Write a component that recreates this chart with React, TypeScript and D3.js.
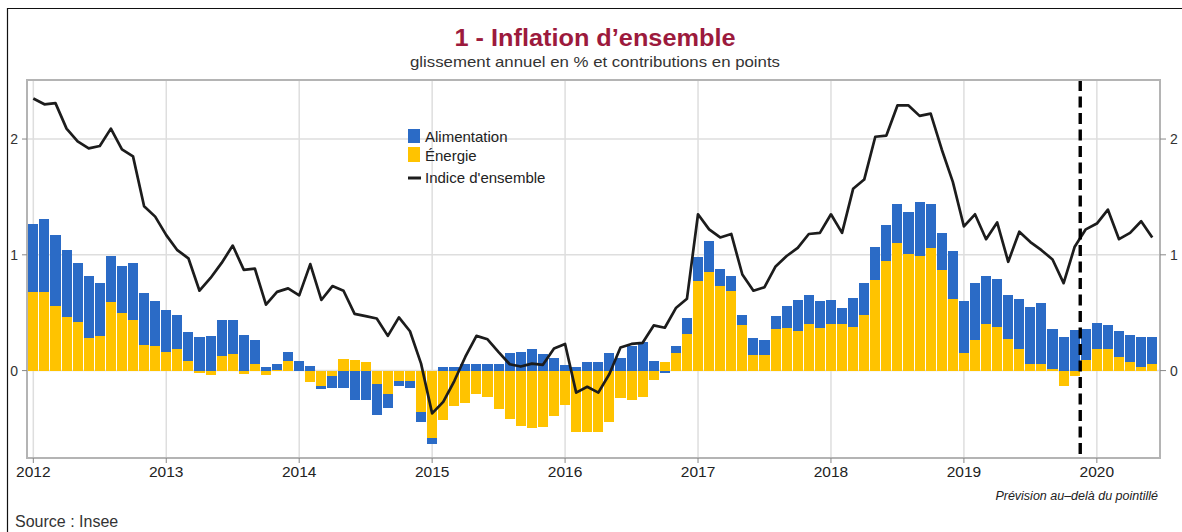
import React from "react";
import * as d3 from "d3";

// Monthly data, January 2012 to June 2020 (month index 0 = Jan 2012)
const startYear = 2012;
const years = [2012, 2013, 2014, 2015, 2016, 2017, 2018, 2019, 2020];

// Headline inflation (glissement annuel, %)
const headline = [
  2.35, 2.30, 2.31, 2.09, 1.98, 1.92, 1.94, 2.09, 1.91, 1.85, 1.42, 1.33,
  1.17, 1.04, 0.97, 0.69, 0.80, 0.93, 1.08, 0.87, 0.88, 0.57, 0.68, 0.71,
  0.65, 0.92, 0.61, 0.73, 0.69, 0.49, 0.47, 0.45, 0.30, 0.46, 0.34, 0.06,
  -0.37, -0.27, -0.09, 0.12, 0.30, 0.27, 0.16, 0.055, 0.035, 0.06, 0.05, 0.19,
  0.23, -0.19, -0.14, -0.19, -0.03, 0.20, 0.23, 0.24, 0.39, 0.37, 0.54, 0.62,
  1.35, 1.22, 1.15, 1.18, 0.83, 0.69, 0.72, 0.90, 0.99, 1.06, 1.18, 1.19,
  1.35, 1.19, 1.57, 1.65, 2.02, 2.03, 2.29, 2.29, 2.20, 2.22, 1.91, 1.63,
  1.245, 1.35, 1.135, 1.28, 0.94, 1.20, 1.11, 1.04, 0.96, 0.755, 1.07, 1.22,
  1.27, 1.39, 1.135, 1.19, 1.29, 1.15,
];

// Contribution of energy (points)
const energy = [
  0.68, 0.68, 0.56, 0.46, 0.42, 0.28, 0.30, 0.59, 0.50, 0.44, 0.22, 0.21,
  0.16, 0.19, 0.08, -0.02, -0.04, 0.13, 0.14, -0.03, 0.055, -0.04, 0.005, 0.08,
  0.0, -0.10, -0.13, -0.05, 0.10, 0.09, 0.07, -0.12, -0.20, -0.09, -0.09, -0.36,
  -0.58, -0.43, -0.31, -0.28, -0.20, -0.23, -0.33, -0.42, -0.48, -0.50, -0.49, -0.39,
  -0.30, -0.53, -0.53, -0.53, -0.44, -0.24, -0.25, -0.23, -0.08, 0.07, 0.155, 0.32,
  0.77, 0.85, 0.73, 0.69, 0.39, 0.135, 0.135, 0.36, 0.37, 0.345, 0.40, 0.37,
  0.40, 0.40, 0.38, 0.48, 0.78, 0.95, 1.10, 1.005, 0.99, 1.06, 0.87, 0.617,
  0.15, 0.26, 0.40, 0.38, 0.27, 0.19, 0.06, 0.06, 0.01, -0.13, -0.05, 0.09,
  0.19, 0.19, 0.115, 0.07, 0.035, 0.06,
];

// Contribution of food (points)
const food = [
  0.59, 0.63, 0.61, 0.58, 0.51, 0.54, 0.46, 0.40, 0.40, 0.49, 0.45, 0.39,
  0.36, 0.29, 0.25, 0.29, 0.30, 0.31, 0.30, 0.31, 0.205, 0.035, 0.05, 0.08,
  0.08, 0.037, -0.03, -0.10, -0.15, -0.25, -0.25, -0.26, -0.12, -0.04, -0.06, -0.08,
  -0.05, 0.03, 0.03, 0.06, 0.06, 0.06, 0.06, 0.15, 0.16, 0.185, 0.14, 0.11,
  0.05, 0.03, 0.07, 0.07, 0.155, 0.11, 0.21, 0.245, 0.08, -0.02, 0.06, 0.135,
  0.21, 0.27, 0.145, 0.13, 0.09, 0.145, 0.13, 0.11, 0.19, 0.265, 0.25, 0.235,
  0.21, 0.14, 0.25, 0.28, 0.29, 0.31, 0.34, 0.365, 0.47, 0.38, 0.32, 0.42,
  0.45, 0.50, 0.42, 0.41, 0.38, 0.43, 0.49, 0.52, 0.35, 0.29, 0.35, 0.27,
  0.225, 0.205, 0.23, 0.24, 0.255, 0.23,
];

const yTicks = [0, 1, 2];
const forecastBoundary = 94.5; // between Nov 2019 and Dec 2019
const seriesKeys = ["energy", "food"];
const legendItems = ["Alimentation", "Énergie", "Indice d'ensemble"];

const BLUE = "#2b6bc6";
const YELLOW = "#ffc300";
const LINE = "#1c1c1c";
const GRID = "#dedede";
const FRAME = "#b4b4b4";

export default function App() {
  const W = 1182;
  const H = 532;
  const left = 27;
  const right = 1160;
  const top = 80;
  const bottom = 458;

  const x = d3.scaleLinear().domain([-0.57, 101.7]).range([left, right]);
  const y = d3.scaleLinear().domain([-0.755, 2.51]).range([bottom, top]);
  const step = x(1) - x(0);

  const rows = headline.map((h, i) => ({ i, energy: energy[i], food: food[i] }));
  const stacked = d3
    .stack<any>()
    .keys(seriesKeys)
    .offset(d3.stackOffsetDiverging)(rows);

  const line = d3
    .line<number>()
    .x((_, i) => x(i))
    .y((v) => y(v));

  const colors: Record<string, string> = { energy: YELLOW, food: BLUE };
  const sans = "'Liberation Sans', Arial, sans-serif";
  const narrow = "'Liberation Sans Narrow', 'Liberation Sans', Arial, sans-serif";

  return (
    <div style={{ position: "absolute", left: 0, top: 0 }}>
      <svg width={W} height={H} style={{ display: "block", background: "#fff" }}>
        {/* outer frame */}
        <line x1={7} x2={W} y1={8.5} y2={8.5} stroke="#111" strokeWidth={1.2} />
        <line x1={7.5} x2={7.5} y1={8} y2={H} stroke="#111" strokeWidth={1.2} />

        {/* titles */}
        <text
          x={595}
          y={46}
          textAnchor="middle"
          fontFamily={narrow}
          fontWeight="bold"
          fontSize={23}
          fill="#9c1a3d"
          textLength={281}
          lengthAdjust="spacingAndGlyphs"
        >
          1 - Inflation d’ensemble
        </text>
        <text
          x={595}
          y={67}
          textAnchor="middle"
          fontFamily={narrow}
          fontSize={14.5}
          fill="#333"
          textLength={370}
          lengthAdjust="spacingAndGlyphs"
        >
          glissement annuel en % et contributions en points
        </text>

        {/* grid */}
        {yTicks.map((t) => (
          <line key={"gy" + t} x1={left} x2={right} y1={y(t)} y2={y(t)} stroke={GRID} strokeWidth={1.5} />
        ))}
        {years.map((yr) => {
          const xv = x((yr - startYear) * 12);
          return <line key={"gx" + yr} x1={xv} x2={xv} y1={top} y2={bottom} stroke={GRID} strokeWidth={1.5} />;
        })}

        {/* bars */}
        {stacked.map((s) => (
          <g key={s.key} fill={colors[s.key]}>
            {s.map((d, i) => {
              const y0 = y(d[0]);
              const y1 = y(d[1]);
              return (
                <rect
                  key={i}
                  x={x(i) - step / 2 + 0.5}
                  width={step - 1}
                  y={Math.min(y0, y1)}
                  height={Math.abs(y1 - y0)}
                  shapeRendering="crispEdges"
                />
              );
            })}
          </g>
        ))}

        {/* headline line */}
        <path d={line(headline) || ""} fill="none" stroke={LINE} strokeWidth={2.7} strokeLinejoin="round" />

        {/* forecast boundary */}
        <line
          x1={x(forecastBoundary)}
          x2={x(forecastBoundary)}
          y1={top}
          y2={bottom}
          stroke="#000"
          strokeWidth={3.4}
          strokeDasharray="11,5.5"
        />

        {/* plot frame */}
        <rect x={left} y={top} width={right - left} height={bottom - top} fill="none" stroke={FRAME} strokeWidth={2} />

        {/* y axes */}
        {yTicks.map((t) => (
          <g key={"ya" + t}>
            <line x1={left - 5} x2={left} y1={y(t)} y2={y(t)} stroke="#888" strokeWidth={1} />
            <text x={left - 9} y={y(t) + 5} textAnchor="end" fontFamily={sans} fontSize={14} fill="#333">
              {t}
            </text>
            <line x1={right} x2={right + 6} y1={y(t)} y2={y(t)} stroke="#888" strokeWidth={1} />
            <text x={right + 10} y={y(t) + 5} textAnchor="start" fontFamily={sans} fontSize={14} fill="#333">
              {t}
            </text>
          </g>
        ))}

        {/* x axis */}
        {years.map((yr) => {
          const xv = x((yr - startYear) * 12);
          return (
            <g key={"xa" + yr}>
              <line x1={xv} x2={xv} y1={bottom} y2={bottom + 5} stroke="#888" strokeWidth={1} />
              <text x={xv} y={bottom + 19} textAnchor="middle" fontFamily={narrow} fontSize={15.5} fill="#222">
                {yr}
              </text>
            </g>
          );
        })}

        {/* legend */}
        <g fontFamily={sans} fontSize={15} fill="#222">
          <rect x={408} y={129} width={12} height={14} fill={BLUE} />
          <text x={425} y={142}>{legendItems[0]}</text>
          <rect x={408} y={147} width={12} height={15} fill={YELLOW} />
          <text x={425} y={161}>{legendItems[1]}</text>
          <line x1={408} x2={421} y1={178} y2={178} stroke={LINE} strokeWidth={3} />
          <text x={425} y={183}>{legendItems[2]}</text>
        </g>

        {/* notes */}
        <text x={1158} y={500} textAnchor="end" fontFamily={narrow} fontStyle="italic" fontSize={12.5} fill="#222">
          Prévision au–delà du pointillé
        </text>
        <text x={15} y={527} fontFamily={sans} fontSize={16} fill="#333">
          Source : Insee
        </text>
      </svg>
    </div>
  );
}
